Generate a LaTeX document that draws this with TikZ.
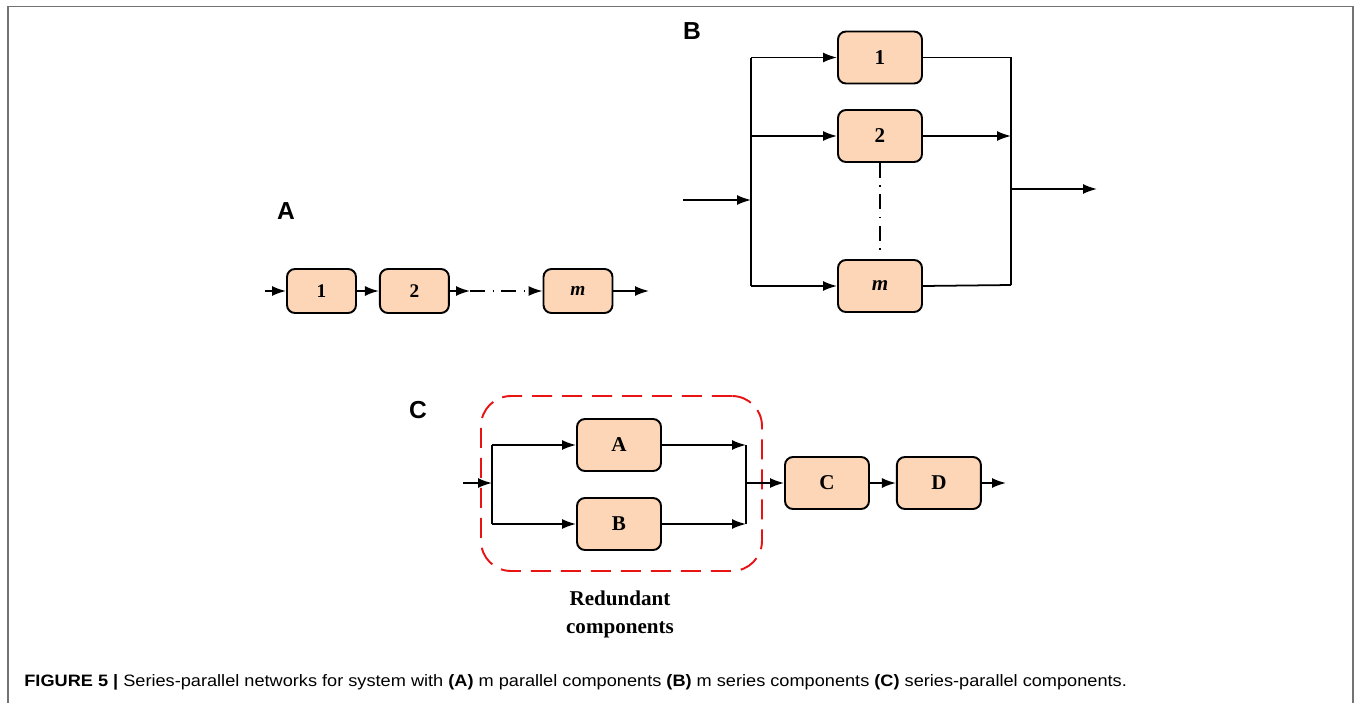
\documentclass[tikz,border=0pt]{standalone}
\usepackage{fontspec}
\setmainfont{Liberation Serif}
\setsansfont{Liberation Sans}
\usepackage{tikz}
\usetikzlibrary{shapes.geometric, arrows, arrows.meta}
\usetikzlibrary{positioning}
\definecolor{peach}{RGB}{252,214,182}
\definecolor{framegray}{RGB}{115,115,115}
\definecolor{dashred}{RGB}{232,20,20}
\tikzstyle{block} = [rectangle, rounded corners=0.16cm, draw=black, line width=1.1pt, fill=peach, font=\fontsize{12}{14}\selectfont\bfseries]
\tikzstyle{smallblock} = [block, minimum width=1.38cm, minimum height=0.88cm, font=\fontsize{11}{12}\selectfont\bfseries]
\tikzstyle{bigblock} = [block, minimum width=1.68cm, minimum height=1.04cm]
\tikzstyle{arrow} = [line width=1pt,-{Latex[length=0.28cm,width=0.2cm]}]
\tikzstyle{link} = [line width=1pt, -]
\tikzstyle{dotdash} = [dash pattern=on 0.3cm off 0.15cm on 0.03cm off 0.15cm]
\tikzstyle{panel} = [font=\fontsize{14}{16}\selectfont\sffamily\bfseries]
\tikzstyle{redundant} = [rectangle, rounded corners=0.6cm, draw=dashred, line width=1.1pt, dash pattern=on 0.4cm off 0.2cm, minimum width=5.62cm, minimum height=3.5cm]

\begin{document}
\begin{tikzpicture}[x=0.02cm, y=-0.02cm, node distance = 0.44cm]
\useasboundingbox (0,0) rectangle (1356,703);
% frame
\draw[framegray, line width=0.8pt] (8,703) -- (8,6.5) -- (1353,6.5) -- (1353,703);

% (A) series
\node (labA) [panel] at (286,211) {A};
\node (a1) [smallblock] at (321.5,291) {1};
\node (a2) [smallblock, right = of a1] {2};
\node (am) [smallblock] at (578,291) {\textit{m}};
\coordinate (ain) at (265,291);
\coordinate (adot) at (470,291);
\coordinate (aout) at (649,291);
\draw [arrow] (ain) -- (a1);
\draw [arrow] (a1) -- (a2);
\draw [arrow] (a2) -- (adot);
\draw [arrow, dotdash] (adot) -- (am);
\draw [arrow] (am) -- (aout);

% (B) parallel
\node (labB) [panel] at (692,31) {B};
\node (b1) [bigblock] at (880,57.5) {1};
\node (b2) [bigblock] at (880,136) {2};
\node (bm) [bigblock] at (880,286) {\textit{m}};
\coordinate (bin) at (683,200);
\coordinate (bsplit) at (751,200);
\coordinate (btop) at (751,57.5);
\coordinate (bbot) at (751,286);
\coordinate (bjoin) at (1011,189);
\coordinate (brbot) at (1011,285);
\coordinate (bout) at (1097,189);
\coordinate (bdots) at (880,250);
\draw [arrow] (bin) -- (bsplit);
\draw [link] (btop) -- (bbot);
\draw [arrow] (btop) -- (b1);
\draw [arrow] (b2 -| btop) -- (b2);
\draw [arrow] (bbot) -- (bm);
\draw [link] (b1.east) -| (brbot);
\draw [arrow] (b2.east) -- (b2 -| bjoin);
\draw [link] (bm.east) -- (brbot);
\draw [arrow] (bjoin) -- (bout);
\draw [link, dotdash] (b2.south) -- (bdots);

% (C) series-parallel
\node (labC) [panel] at (418,410) {C};
\node (grp) [redundant] at (621.5,483.5) {};
\node (cA) [bigblock] at (619,445) {A};
\node (cB) [bigblock] at (619,524) {B};
\node (cC) [bigblock] at (827,483) {C};
\node (cD) [bigblock, right = 0.52cm of cC] {D};
\coordinate (cin) at (463,483);
\coordinate (cl) at (492,483);
\coordinate (cr) at (746,483);
\coordinate (cout) at (1006,483);
\draw [arrow] (cin) -- (cl);
\draw [link] (cA -| cl) -- (cB -| cl);
\draw [arrow] (cA -| cl) -- (cA);
\draw [arrow] (cB -| cl) -- (cB);
\draw [arrow] (cA) -- (cA -| cr);
\draw [arrow] (cB) -- (cB -| cr);
\draw [link] (cA -| cr) -- (cB -| cr);
\draw [arrow] (cr) -- (cC);
\draw [arrow] (cC) -- (cD);
\draw [arrow] (cD) -- (cout);
\node (redtxt) [align=center, font=\fontsize{12}{16}\selectfont\bfseries] at (620,614) {Redundant\\components};

% caption
\node (cap) [anchor=west, inner sep=0pt, font=\fontsize{9.4}{11}\selectfont\sffamily] at (24,682)
  {\scalebox{1.1}[1]{\textbf{FIGURE 5 |} Series-parallel networks for system with \textbf{(A)} m parallel components \textbf{(B)} m series components \textbf{(C)} series-parallel components.}};
\end{tikzpicture}
\end{document}
